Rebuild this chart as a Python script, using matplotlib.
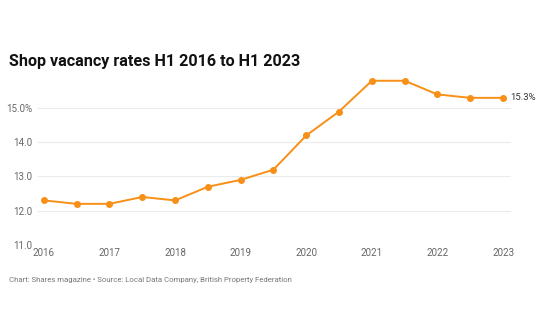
import matplotlib.pyplot as plt

plt.rcParams['font.family'] = ['Roboto', 'DejaVu Sans']

# Half-year periods (H1 / H2) from 2016 to H1 2023
periods = [2016.0, 2016.5, 2017.0, 2017.5, 2018.0, 2018.5, 2019.0, 2019.5,
           2020.0, 2020.5, 2021.0, 2021.5, 2022.0, 2022.5, 2023.0]
vacancy = [12.3, 12.2, 12.2, 12.4, 12.3, 12.7, 12.9, 13.2,
           14.2, 14.9, 15.8, 15.8, 15.4, 15.3, 15.3]
years = [2016, 2017, 2018, 2019, 2020, 2021, 2022, 2023]
y_ticks = [11.0, 12.0, 13.0, 14.0, 15.0]
y_labels = ['11.0', '12.0', '13.0', '14.0', '15.0%']

fig = plt.figure(figsize=(5.5, 3.3), dpi=100)
ax = fig.add_axes([0.069, 0.258, 0.86, 0.518])

ax.plot(periods, vacancy, color='#f88f16', lw=1.4, marker='o', ms=4, zorder=3)
ax.annotate(f'{vacancy[-1]}%', (periods[-1], vacancy[-1]), xytext=(5, 0),
            textcoords='offset points', va='center', ha='left',
            fontsize=6.8, color='#333333')

ax.set_xlim(2015.91, 2023.12)
ax.set_ylim(11.0, 16.0)
ax.set_xticks(years)
ax.set_xticklabels([str(y) for y in years])
ax.set_yticks(y_ticks)
ax.set_yticklabels(y_labels)
ax.grid(axis='y', color='#ebebeb', lw=0.8)
ax.set_axisbelow(True)
for s in ax.spines.values():
    s.set_visible(False)
ax.tick_params(length=0, labelsize=7, colors='#666666')
ax.tick_params(axis='x', pad=2)
ax.tick_params(axis='y', pad=4)

fig.text(0.016, 0.815, 'Shop vacancy rates H1 2016 to H1 2023', fontsize=11.6,
         fontweight='bold', color='#111111', va='center')
fig.text(0.016, 0.152, 'Chart: Shares magazine • Source: Local Data Company, British Property Federation',
         fontsize=5.6, color='#777777', va='center')

fig.savefig('out.png', dpi=100, facecolor='white')
